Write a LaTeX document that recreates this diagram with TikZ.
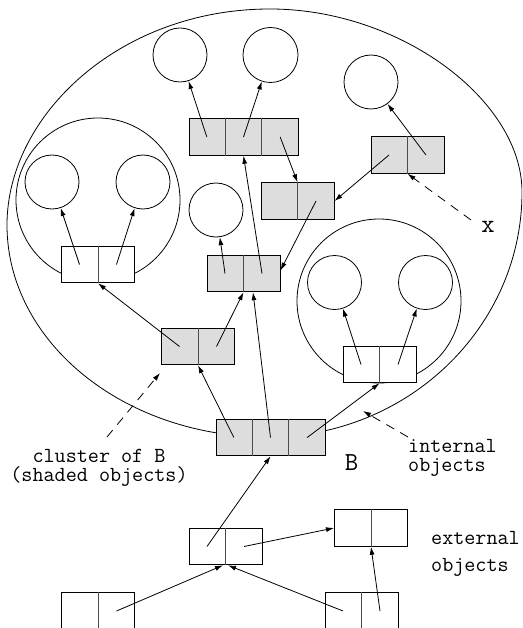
\documentclass[tikz,border=0pt]{standalone}
\usepackage{fontspec}
\usetikzlibrary{arrows.meta,calc}
\definecolor{shadegray}{HTML}{DDDDDD}
\begin{document}
\begin{tikzpicture}[x=1pt,y=-1pt,
  obj/.style={circle,draw,line width=0.8pt,inner sep=0pt,minimum size=54pt},
  clus/.style={circle,draw,line width=0.8pt,inner sep=0pt,minimum size=164pt},
  box2/.style={rectangle,draw,line width=1pt,inner sep=0pt,minimum width=73pt,minimum height=36.5pt},
  box3/.style={box2,minimum width=109pt},
  shaded/.style={fill=shadegray},
  plain/.style={fill=white},
  divline/.style={draw=black!70,line width=1pt},
  arr/.style={-{Latex[length=8pt,width=5pt]},line width=0.8pt},
  darr/.style={arr,dash pattern=on 9pt off 7pt},
  lbl/.style={font=\ttfamily\fontsize{21.5}{19.5}\selectfont,inner sep=0pt},
  biglbl/.style={font=\ttfamily\fontsize{26}{26}\selectfont,inner sep=0pt}]
\useasboundingbox (0,0) rectangle (522,628);
\clip (0,0) rectangle (522,628);
% big cluster outline
\draw[line width=0.8pt] (270,9) .. controls (400,9) and (522,100) .. (522,192)
  .. controls (522,327) and (408,437) .. (268,437)
  .. controls (124,437) and (7,342) .. (7,225)
  .. controls (7,115) and (120,9) .. (270,9);
% sub clusters and objects
\node[clus] (lclus) at (98,200) {};
\node[clus] (rclus) at (379,301) {};
\node[obj] (ca) at (180,55) {};
\node[obj,minimum size=55pt] (cb) at (270.5,55) {};
\node[obj] (cc) at (371,82) {};
\node[obj] (cd) at (216,210) {};
\node[obj] (cl1) at (52,182) {};
\node[obj] (cl2) at (143,182) {};
\node[obj] (cr1) at (334.5,282.5) {};
\node[obj] (cr2) at (425.5,282.5) {};
% boxes
\node[box3,shaded] (T) at (243.5,137) {};
\node[box2,shaded] (R) at (407.5,155) {};
\node[box2,shaded] (M) at (297.5,201) {};
\node[box2,shaded] (N) at (243.5,273.5) {};
\node[box2,plain] (L) at (98,264.5) {};
\node[box2,plain] (RB) at (379.5,364.5) {};
\node[box2,shaded] (P) at (198,346.5) {};
\node[box3,shaded] (Bx) at (270.5,437.5) {};
\node[box2,plain] (E) at (225.5,546.5) {};
\node[box2,plain] (F) at (371,528) {};
\node[box2,plain] (G) at (98,611) {};
\node[box2,plain] (H) at (361.5,611) {};
\foreach \n in {R,M,N,L,RB,P,E,F,G,H}{
  \draw[divline] (\n.north) -- (\n.south);
  \coordinate (\n1) at ($(\n.west)!0.25!(\n.east)$);
  \coordinate (\n2) at ($(\n.west)!0.75!(\n.east)$);
}
\foreach \n in {T,Bx}{
  \draw[divline] ($(\n.north west)!1/3!(\n.north east)$) -- ($(\n.south west)!1/3!(\n.south east)$);
  \draw[divline] ($(\n.north west)!2/3!(\n.north east)$) -- ($(\n.south west)!2/3!(\n.south east)$);
  \coordinate (\n1) at ($(\n.west)!1/6!(\n.east)$);
  \coordinate (\n2) at ($(\n.west)!3/6!(\n.east)$);
  \coordinate (\n3) at ($(\n.west)!5/6!(\n.east)$);
}
% pointers
\draw[arr] (T1) -- (ca);
\draw[arr] (T2) -- (cb);
\draw[arr] (T3) -- (M.north);
\draw[arr] (R2) -- (cc);
\draw[arr] (R1) -- (M.east);
\draw[arr] (M2) -- ([yshift=3pt]N.east);
\draw[arr] (N1) -- (cd);
\draw[arr] (N2) -- (T.south);
\draw[arr] (P2) -- (N.south);
\draw[arr] (Bx2) -- ([xshift=9.5pt]N.south);
\draw[arr] (Bx1) -- (P.south);
\draw[arr] (Bx3) -- (RB.south);
\draw[arr] (P1) -- (L.south);
\draw[arr] (L1) -- (cl1);
\draw[arr] (L2) -- (cl2);
\draw[arr] (RB1) -- (cr1);
\draw[arr] (RB2) -- (cr2);
\draw[arr] (E1) -- (Bx.south);
\draw[arr] (E2) -- (F.west);
\draw[arr] (G2) -- ([xshift=-2.5pt]E.south);
\draw[arr] (H1) -- ([xshift=2.5pt]E.south);
\draw[arr] (H2) -- (F.south);
% dashed annotations
\coordinate (xs) at (471,220);
\draw[darr] (xs) -- (R.south);
\node[biglbl,anchor=base] (xl) at (488,233) {x};
\coordinate (is) at (408,437);
\coordinate (ie) at (363,411);
\draw[darr] (is) -- (ie);
\coordinate (cs) at (107,437);
\coordinate (ce) at (160,373);
\draw[darr] (cs) -- (ce);
% labels
\node[lbl,align=center,anchor=north] (clt) at (99,449) {cluster of B\\(shaded objects)};
\node[lbl,align=left,anchor=north west] (intl) at (408,439) {internal\\objects};
\node[biglbl,anchor=base] (Blbl) at (351.5,470) {B};
\node[lbl,align=left,anchor=north west,font=\ttfamily\fontsize{21.5}{27}\selectfont] (extl) at (431,531) {external\\objects};
\end{tikzpicture}
\end{document}
